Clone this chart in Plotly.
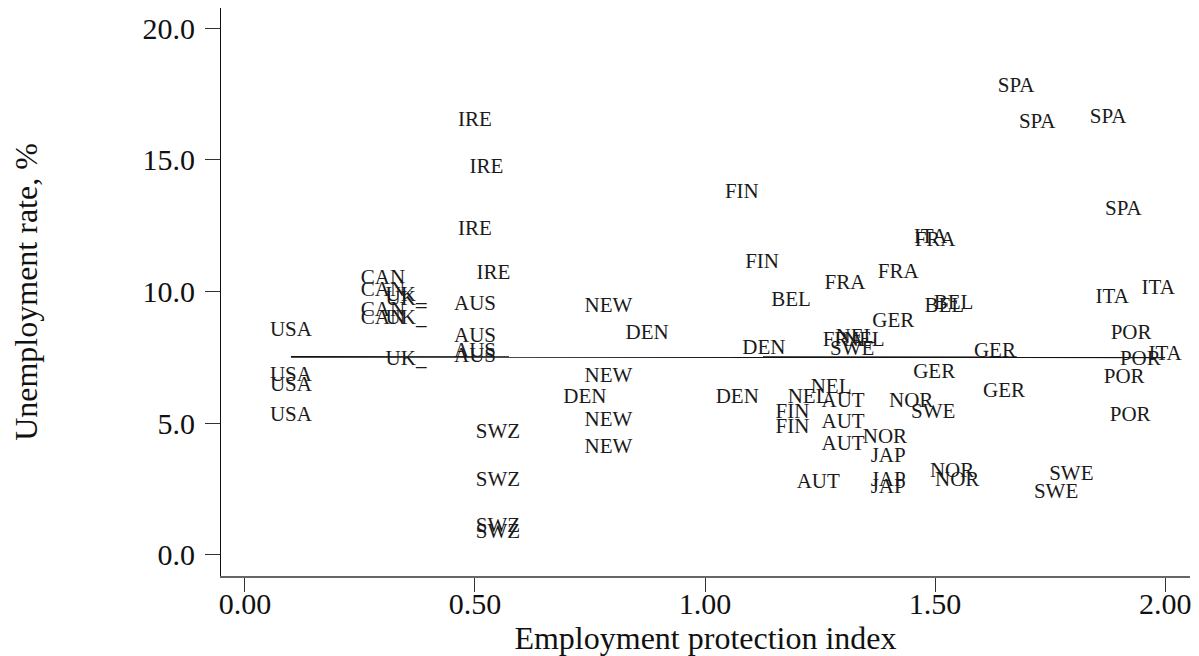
import numpy as np
import plotly.graph_objects as go

# country labels, employment protection index, unemployment rate (%)
labels = (["USA"] * 4 + ["CAN"] * 4 + ["UK_"] * 4 + ["IRE"] * 4 + ["AUS"] * 4
          + ["SWZ"] * 4 + ["NEW"] * 4 + ["DEN"] * 4 + ["FIN"] * 4 + ["BEL"] * 3
          + ["FRA"] * 4 + ["ITA"] * 4 + ["SPA"] * 4 + ["POR"] * 4 + ["GER"] * 4
          + ["NEL"] * 4 + ["SWE"] * 4 + ["AUT"] * 4 + ["NOR"] * 4 + ["JAP"] * 3)

epl_index = [
    0.10, 0.10, 0.10, 0.10,
    0.30, 0.30, 0.30, 0.30,
    0.35, 0.35, 0.35, 0.35,
    0.50, 0.525, 0.50, 0.54,
    0.50, 0.50, 0.50, 0.50,
    0.55, 0.55, 0.55, 0.55,
    0.79, 0.79, 0.79, 0.79,
    0.874, 1.128, 0.739, 1.07,
    1.08, 1.124, 1.19, 1.19,
    1.187, 1.52, 1.54,
    1.304, 1.42, 1.50, 1.30,
    1.49, 1.885, 1.985, 2.00,
    1.676, 1.722, 1.876, 1.909,
    1.926, 1.946, 1.911, 1.924,
    1.409, 1.63, 1.498, 1.65,
    1.328, 1.346, 1.274, 1.224,
    1.32, 1.496, 1.796, 1.763,
    1.30, 1.30, 1.30, 1.246,
    1.448, 1.391, 1.537, 1.548,
    1.398, 1.398, 1.398,
]

unemp_rate = [
    8.52, 6.82, 6.44, 5.30,
    10.49, 10.04, 9.28, 8.98,
    9.85, 9.70, 8.98, 7.39,
    16.48, 14.70, 12.35, 10.68,
    9.51, 8.30, 7.73, 7.54,
    4.62, 2.80, 1.06, 0.83,
    9.43, 6.78, 5.08, 4.05,
    8.41, 7.84, 5.98, 5.98,
    13.75, 11.10, 5.38, 4.81,
    9.66, 9.43, 9.55,
    10.30, 10.72, 11.93, 8.14,
    12.05, 9.77, 10.11, 7.58,
    17.77, 16.40, 16.59, 13.11,
    8.41, 7.39, 6.74, 5.30,
    8.86, 7.73, 6.93, 6.21,
    8.26, 8.14, 6.36, 5.98,
    7.77, 5.38, 3.03, 2.35,
    5.80, 5.00, 4.17, 2.73,
    5.80, 4.43, 3.14, 2.80,
    3.71, 2.80, 2.54,
]

# fitted line (intercept, slope)
fit_params = [7.52, -0.01]

x_ticks = [0.0, 0.5, 1.0, 1.5, 2.0]
y_ticks = [0.0, 5.0, 10.0, 15.0, 20.0]

serif = "Liberation Serif, Times New Roman, serif"

x_fit = np.array([min(epl_index), max(epl_index)])
y_fit = fit_params[0] + fit_params[1] * x_fit

fig = go.Figure()
fig.add_trace(go.Scatter(
    x=x_fit, y=y_fit, mode="lines",
    line=dict(color="#111111", width=1.6),
    hoverinfo="skip",
))
fig.add_trace(go.Scatter(
    x=epl_index, y=unemp_rate, text=labels,
    mode="text", textposition="middle center",
    textfont=dict(family=serif, size=21, color="#1a1a1a"),
    cliponaxis=False,
))

# the page body adds an 8px offset, so margins are shifted to compensate
fig.update_layout(
    width=1199, height=656,
    margin=dict(l=213, r=17, t=0, b=88, autoexpand=False),
    paper_bgcolor="white", plot_bgcolor="white",
    showlegend=False,
    font=dict(family=serif, color="#111111"),
)
fig.update_xaxes(
    range=[-0.052, 2.054], automargin=False,
    tickvals=x_ticks, ticktext=[f"{v:.2f}" for v in x_ticks],
    ticks="outside", ticklen=14, tickcolor="#333333",
    ticklabelstandoff=-14,
    tickfont=dict(size=30, family=serif, color="#111111"),
    showline=True, linecolor="#666666", linewidth=1.5,
    showgrid=False, zeroline=False,
    title=dict(text="Employment protection index",
               font=dict(size=32, family=serif, color="#111111"), standoff=0),
)
fig.update_yaxes(
    range=[-0.8, 20.76], automargin=False,
    tickvals=y_ticks, ticktext=[f"{v:.1f}" for v in y_ticks],
    ticks="outside", ticklen=15, tickcolor="#333333",
    ticklabelstandoff=4,
    tickfont=dict(size=30, family=serif, color="#111111"),
    showline=True, linecolor="#111111", linewidth=1.2,
    showgrid=False, zeroline=False,
    title=dict(text="Unemployment rate, %",
               font=dict(size=32, family=serif, color="#111111"), standoff=107),
)

fig.write_html("out.html")
